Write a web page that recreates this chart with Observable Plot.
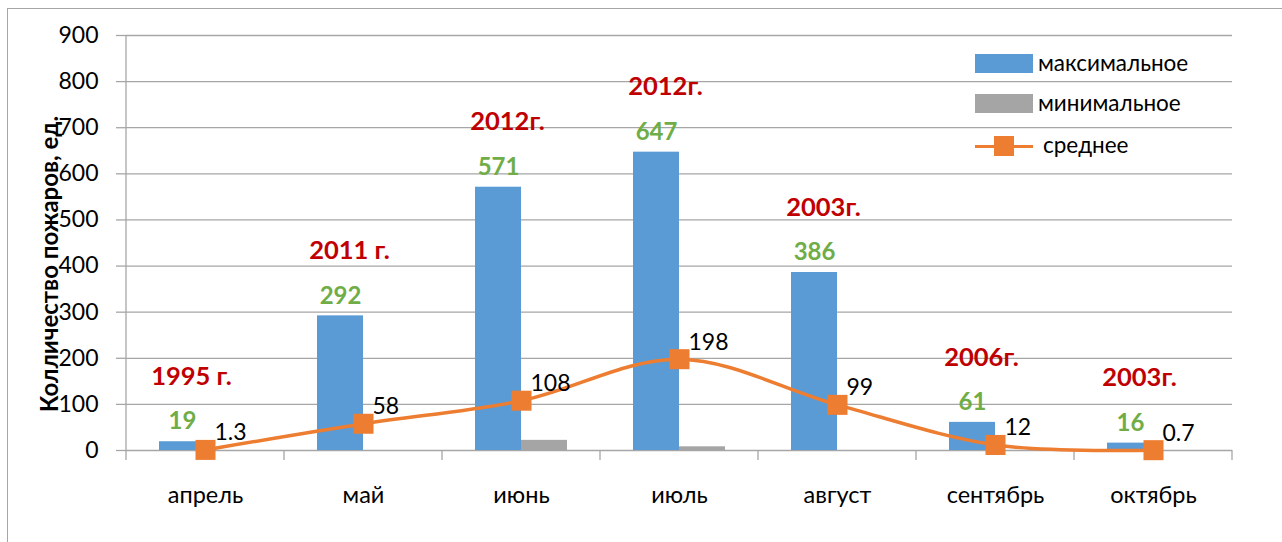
<!DOCTYPE html>
<html>
<head>
<meta charset="utf-8">
<script src="https://cdn.jsdelivr.net/npm/d3@7"></script>
<script src="https://cdn.jsdelivr.net/npm/@observablehq/plot@0.6"></script>
<style>
  html, body { margin: 0; padding: 0; background: #fff; }
  #wrap { position: relative; width: 1282px; height: 542px; overflow: hidden; font-family: Lato, "Open Sans", sans-serif; }
  #border { position: absolute; left: 7px; top: 8px; width: 1300px; height: 600px; border: 1px solid #a6a6a6; box-sizing: border-box; }
  #chart { position: absolute; left: 0; top: 0; }
  .legend { position: absolute; left: 975px; top: 0; font-family: Lato, sans-serif; font-size: 22.5px; color: #000; }
  .item { position: absolute; left: 0; white-space: nowrap; height: 20px; }
  .sw { position: absolute; left: 0; width: 58px; height: 19px; }
  .lab { position: absolute; top: -4px; left: 63px; line-height: 26px; }
</style>
</head>
<body>
<div id="wrap">
  <div id="border"></div>
  <div id="chart"></div>
</div>
<script>
// ---- data ----
const months = ["апрель", "май", "июнь", "июль", "август", "сентябрь", "октябрь"];
const maxValues = [19, 292, 571, 647, 386, 61, 16];
const minValues = [0, 0, 22, 8, 0, 0, 0];
const avgValues = [1.3, 58, 108, 198, 99, 12, 0.7];
const avgLabels = ["1.3", "58", "108", "198", "99", "12", "0.7"];
const maxYears = ["1995 г.", "2011 г.", "2012г.", "2012г.", "2003г.", "2006г.", "2003г."];
const yTicks = [0, 100, 200, 300, 400, 500, 600, 700, 800, 900];
const seriesNames = ["максимальное", "минимальное", "среднее"];
const yTitle = "Колличество пожаров, ед.";

// ---- styles ----
const blue = "#5b9bd5", gray = "#a5a5a5", orange = "#ed7d31", green = "#70ad47", red = "#c00000";
const gridColor = "#a6a6a6";

const table = months.map((m, i) => ({
  month: m, max: maxValues[i], min: minValues[i], avg: avgValues[i],
  avgLabel: avgLabels[i], year: maxYears[i]
}));

const W = 1282, H = 542, ml = 126, mr = 50, mt = 35, mb = 92;
const bw = (W - ml - mr) / months.length;
const barW = 46;

function axisDecor(index, scales, values, dims) {
  const x = scales.x;
  const b = x.bandwidth ? x.bandwidth() : bw;
  const yb = dims.height - dims.marginBottom;
  const g = d3.create("svg:g").attr("stroke", gridColor).attr("stroke-width", 1.3).attr("fill", "none");
  const starts = months.map(m => x(m));
  const bounds = starts.concat([starts[starts.length - 1] + b]);
  for (const px of bounds) {
    g.append("line").attr("x1", px).attr("x2", px).attr("y1", yb).attr("y2", yb + 10);
  }
  g.append("line").attr("x1", bounds[0]).attr("x2", bounds[0]).attr("y1", dims.marginTop).attr("y2", yb);
  return g.node();
}

const plot = Plot.plot({
  width: W, height: H,
  marginLeft: ml, marginRight: mr, marginTop: mt, marginBottom: mb,
  style: { fontFamily: "Lato, sans-serif", background: "transparent", overflow: "visible" },
  x: { domain: months, padding: 0, axis: null },
  y: { domain: [0, 900], axis: null },
  marks: [
    Plot.ruleY(yTicks, { stroke: gridColor, strokeWidth: 1.3 }),
    Plot.axisY({ ticks: yTicks, tickSize: 10, tickPadding: 18, stroke: gridColor, strokeWidth: 1.3, fontSize: 23, fill: "#000", label: null, tickFormat: d => String(d) }),
    Plot.axisX({ tickSize: 0, tickPadding: 36, fontSize: 23.5, fill: "#000", label: null }),
    axisDecor,
    Plot.barY(table, { x: "month", y: "max", fill: blue, insetLeft: bw / 2 - barW, insetRight: bw / 2 }),
    Plot.barY(table, { x: "month", y: "min", fill: gray, insetLeft: bw / 2, insetRight: bw / 2 - barW }),
    Plot.line(table, { x: "month", y: "avg", stroke: orange, strokeWidth: 3.5, curve: "cardinal" }),
    Plot.dot(table, { x: "month", y: "avg", symbol: "square", r: 11.3, fill: orange, stroke: "none" }),
    Plot.text(table, { x: "month", y: "max", text: "year", dx: -14, dy: -65, fill: red, fontWeight: "bold", fontSize: 25.5 }),
    Plot.text(table, { x: "month", y: "max", text: d => String(d.max), dx: -barW / 2, dy: -20, fill: green, fontWeight: "bold", fontSize: 24 }),
    Plot.text(table, { x: "month", y: "avg", text: "avgLabel", dx: 9, dy: -17, textAnchor: "start", fill: "#000", fontSize: 23 }),
    Plot.text([yTitle], { frameAnchor: "left", rotate: -90, textAnchor: "middle", dx: -76, dy: 21, fontWeight: "bold", fontSize: 24, fill: "#000" })
  ]
});
document.getElementById("chart").appendChild(plot);

// legend
const legend = document.createElement("div");
legend.className = "legend";
const legendItems = [
  { name: seriesNames[0], color: blue, kind: "rect", top: 54 },
  { name: seriesNames[1], color: gray, kind: "rect", top: 94 },
  { name: seriesNames[2], color: orange, kind: "line", top: 136 }
];
for (const it of legendItems) {
  const item = document.createElement("div");
  item.className = "item";
  item.style.top = it.top + "px";
  if (it.kind === "rect") {
    const sw = document.createElement("div");
    sw.className = "sw"; sw.style.background = it.color;
    item.appendChild(sw);
  } else {
    const ln = document.createElement("div");
    ln.style.cssText = `position:absolute;left:0;top:8.5px;width:58px;height:3.5px;background:${it.color}`;
    const sq = document.createElement("div");
    sq.style.cssText = `position:absolute;left:19px;top:0;width:20px;height:20px;background:${it.color}`;
    item.appendChild(ln); item.appendChild(sq);
  }
  const lab = document.createElement("div");
  lab.className = "lab"; lab.textContent = it.name;
  if (it.kind === "line") lab.style.left = "68px";
  item.appendChild(lab);
  legend.appendChild(item);
}
document.getElementById("wrap").appendChild(legend);
</script>
</body>
</html>
